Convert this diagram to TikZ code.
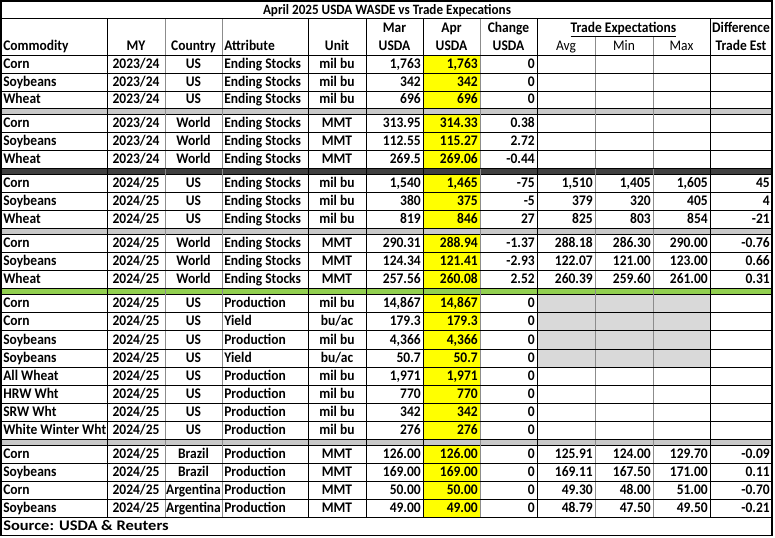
\documentclass[tikz,border=0pt]{standalone}
\usepackage{fontspec}
\setmainfont{Carlito}[FakeStretch=0.92]
\usepackage{tikz}
\usetikzlibrary{calc}
\definecolor{aprfill}{RGB}{255,255,0}
\definecolor{sepgray}{RGB}{200,200,200}
\definecolor{sepdark}{RGB}{64,64,64}
\definecolor{sepgreen}{RGB}{146,208,80}
\definecolor{nagray}{RGB}{217,217,217}
\def\mya{2023/24}
\def\myb{2024/25}
\def\perac{bu/ac}

\begin{document}
\begin{tikzpicture}[x=0.75pt,y=-0.75pt]
	\tikzstyle{every node}=[font=\fontsize{11}{13}\selectfont\bfseries, inner sep=0pt]
	\tikzstyle{lft}=[anchor=base west]
	\tikzstyle{ctr}=[anchor=base]
	\tikzstyle{rgt}=[anchor=base east]
	\tikzstyle{rule}=[black, line width=0.6pt]
	\tikzstyle{faint}=[black!45, line width=0.5pt]
	\useasboundingbox (0,0) rectangle (775,537);
	
	% Cell fills
	\fill[aprfill] (423,55) rectangle (480,517);
	\fill[nagray] (537,294) rectangle (710,367);
	
	% Separator bands between the blocks
	\foreach \top/\bot/\col in {108/114/sepgray, 168/174/sepdark, 228/234/sepgray, 288/294/sepgreen, 439/445/sepgray} {
		\fill[\col] (1,\top) rectangle (772,\bot);
		\draw[rule] (1,\bot) -- (772,\bot);
	}
	
	% Column rules
	\foreach \x in {107, 308, 366, 423, 537, 710} {
		\draw[rule] (\x,18) -- (\x,517);
	}
	\foreach \x in {165, 222, 480} {
		\draw[faint] (\x,18) -- (\x,517);
	}
	\foreach \x in {595, 653} {
		\draw[faint] (\x,37) -- (\x,517);
	}
	
	% Title and header
	\draw[rule] (1,18) -- (772,18);
	\draw[rule] (1,55) -- (772,55);
	\node[ctr, font=\fontsize{10.7}{12}\selectfont\bfseries] (title) at (387,14.5) {April 2025 USDA WASDE vs Trade Expecations};
	\node[ctr] (hmar) at (394.5,32) {Mar};
	\node[ctr] (hapr) at (451.5,32) {Apr};
	\node[ctr] (hchg) at (508.5,32) {Change};
	\node[ctr] (htrade) at (623.5,32) {\underline{Trade Expectations}};
	\node[ctr] (hdif) at (741,32) {Difference};
	\node[lft] (hcom) at (3,50) {Commodity};
	\node[ctr] (hmy) at (136,50) {MY};
	\node[ctr] (hctry) at (193.5,50) {Country};
	\node[lft] (hatt) at (224,50) {Attribute};
	\node[ctr] (hunit) at (337,50) {Unit};
	\node[ctr] (husdaa) at (394.5,50) {USDA};
	\node[ctr] (husdab) at (451.5,50) {USDA};
	\node[ctr] (husdac) at (508.5,50) {USDA};
	\node[ctr, font=\fontsize{11}{13}\selectfont] (havg) at (566,50) {Avg};
	\node[ctr, font=\fontsize{11}{13}\selectfont] (hmin) at (624,50) {Min};
	\node[ctr, font=\fontsize{11}{13}\selectfont] (hmax) at (681.5,50) {Max};
	\node[ctr] (hest) at (741,50) {Trade Est};
	
	% USDA rows
	\foreach \yb/\com/\my/\ctry/\att/\unit/\mar/\apr/\chg [count=\r] in {
		73/Corn/\mya/US/Ending Stocks/mil bu/1{,}763/1{,}763/0,
		91/Soybeans/\mya/US/Ending Stocks/mil bu/342/342/0,
		108/Wheat/\mya/US/Ending Stocks/mil bu/696/696/0,
		132/Corn/\mya/World/Ending Stocks/MMT/313.95/314.33/0.38,
		150/Soybeans/\mya/World/Ending Stocks/MMT/112.55/115.27/2.72,
		168/Wheat/\mya/World/Ending Stocks/MMT/269.5/269.06/-0.44,
		192/Corn/\myb/US/Ending Stocks/mil bu/1{,}540/1{,}465/-75,
		210/Soybeans/\myb/US/Ending Stocks/mil bu/380/375/-5,
		228/Wheat/\myb/US/Ending Stocks/mil bu/819/846/27,
		252/Corn/\myb/World/Ending Stocks/MMT/290.31/288.94/-1.37,
		270/Soybeans/\myb/World/Ending Stocks/MMT/124.34/121.41/-2.93,
		288/Wheat/\myb/World/Ending Stocks/MMT/257.56/260.08/2.52,
		312/Corn/\myb/US/Production/mil bu/14{,}867/14{,}867/0,
		330.5/Corn/\myb/US/Yield/\perac/179.3/179.3/0,
		349/Soybeans/\myb/US/Production/mil bu/4{,}366/4{,}366/0,
		367/Soybeans/\myb/US/Yield/\perac/50.7/50.7/0,
		385/All Wheat/\myb/US/Production/mil bu/1{,}971/1{,}971/0,
		403/HRW Wht/\myb/US/Production/mil bu/770/770/0,
		421/SRW Wht/\myb/US/Production/mil bu/342/342/0,
		439/White Winter Wht/\myb/US/Production/mil bu/276/276/0,
		463/Corn/\myb/Brazil/Production/MMT/126.00/126.00/0,
		481/Soybeans/\myb/Brazil/Production/MMT/169.00/169.00/0,
		499/Corn/\myb/Argentina/Production/MMT/50.00/50.00/0,
		517/Soybeans/\myb/Argentina/Production/MMT/49.00/49.00/0} {
		\draw[rule] (1,\yb) -- (772,\yb);
		\node[lft] (com\r) at (3,\yb-5) {\com};
		\node[ctr] (my\r) at (136,\yb-5) {\my};
		\node[ctr] (ctry\r) at (193.5,\yb-5) {\ctry};
		\node[lft] (att\r) at (224,\yb-5) {\att};
		\node[ctr] (unit\r) at (337,\yb-5) {\unit};
		\node[rgt] (mar\r) at (421,\yb-5) {\mar};
		\node[rgt] (apr\r) at (478,\yb-5) {\apr};
		\node[rgt] (chg\r) at (535,\yb-5) {\chg};
	}
	
	% Trade expectations
	\foreach \yb/\avg/\mn/\mx/\dif [count=\t] in {
		192/1{,}510/1{,}405/1{,}605/45,
		210/379/320/405/4,
		228/825/803/854/-21,
		252/288.18/286.30/290.00/-0.76,
		270/122.07/121.00/123.00/0.66,
		288/260.39/259.60/261.00/0.31,
		463/125.91/124.00/129.70/-0.09,
		481/169.11/167.50/171.00/0.11,
		499/49.30/48.00/51.00/-0.70,
		517/48.79/47.50/49.50/-0.21} {
		\node[rgt] (avg\t) at (593,\yb-5) {\avg};
		\node[rgt] (min\t) at (651,\yb-5) {\mn};
		\node[rgt] (max\t) at (708,\yb-5) {\mx};
		\node[rgt] (dif\t) at (770,\yb-5) {\dif};
	}
	
	% Source line and frame
	\node[lft] (source) at (3,530) {\scalebox{1.22}[1]{Source: USDA \& Reuters}};
	\draw[black, line width=1pt] (1,1) rectangle (772,535.5);
	
\end{tikzpicture}
\end{document}
